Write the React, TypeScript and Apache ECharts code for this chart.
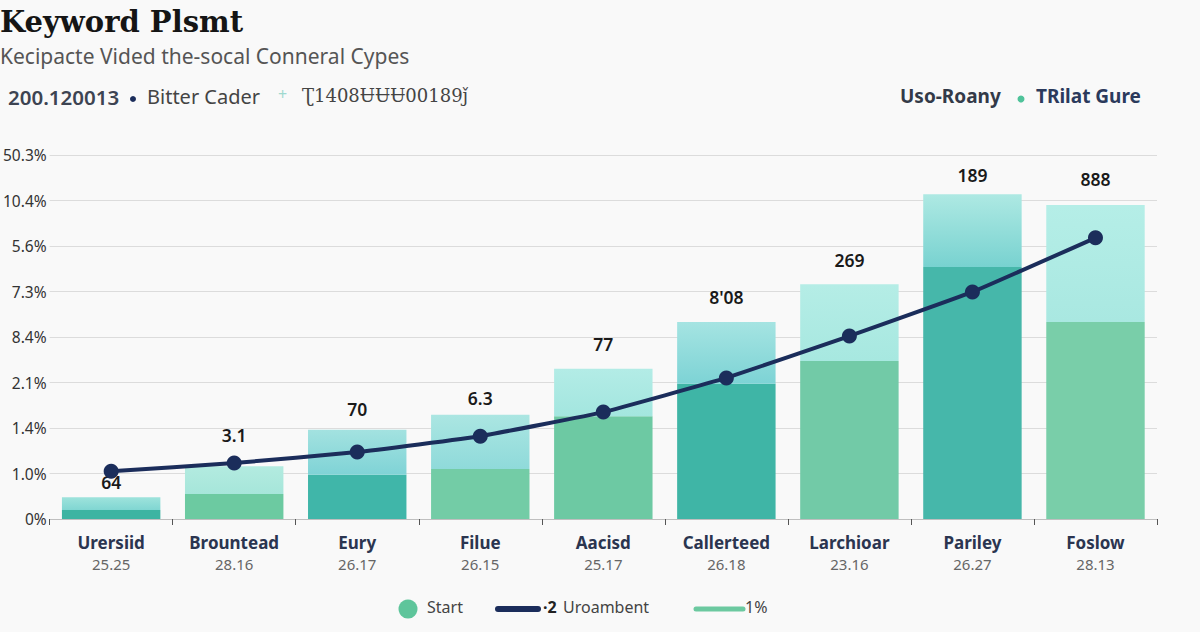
import React, { useEffect, useRef } from "react";
import * as echarts from "echarts";

const categories = ["Urersiid", "Brountead", "Eury", "Filue", "Aacisd", "Callerteed", "Larchioar", "Pariley", "Foslow"];
const subLabels = ["25.25", "28.16", "26.17", "26.15", "25.17", "26.18", "23.16", "26.27", "28.13"];
const yTickLabels = ["0%", "1.0%", "1.4%", "2.1%", "8.4%", "7.3%", "5.6%", "10.4%", "50.3%"];
const baseValues = [0.2, 0.55, 0.97, 1.1, 2.26, 2.97, 3.47, 5.54, 4.33];
const totalValues = [0.48, 1.16, 1.96, 2.29, 3.3, 4.33, 5.16, 7.14, 6.9];
const lineValues = [1.05, 1.23, 1.47, 1.82, 2.35, 3.1, 4.02, 4.99, 6.18];
const barTopLabels = ["64", "3.1", "70", "6.3", "77", "8'08", "269", "189", "888"];

const bottomColors = ["#3db4a2", "#6ccaa1", "#40b6a9", "#73cca6", "#6dc9a3", "#3fb5a6", "#72caa7", "#46b7aa", "#79cea9"];
const topColors = [
  ["#9ee3dc", "#80d6d2"],
  ["#b3ebe0", "#a6e6da"],
  ["#a3e2e0", "#7fd3d6"],
  ["#abe6e2", "#8fdada"],
  ["#b3ece6", "#a3e6df"],
  ["#a5e4e2", "#7dd3d5"],
  ["#b5ede6", "#a7e8e0"],
  ["#aee9e3", "#78d2d0"],
  ["#b5eee7", "#a9e8e1"],
];
const labelDistances = [6, 22, 12, 8, 16, 16, 15, 10, 17];

function grad(c1: string, c2: string) {
  return new echarts.graphic.LinearGradient(0, 0, 0, 1, [
    { offset: 0, color: c1 },
    { offset: 1, color: c2 },
  ]);
}

export default function App() {
  const ref = useRef<HTMLDivElement>(null);
  useEffect(() => {
    if (!ref.current) return;
    const chart = echarts.init(ref.current, null, { renderer: "svg" });
    const sans = "Noto Sans";
    const option: any = {
      animation: false,
      backgroundColor: "#f9f9f9",
      grid: { left: 46, right: 43, top: 155, bottom: 113, containLabel: false },
      xAxis: {
        type: "category",
        data: categories,
        axisLine: { lineStyle: { color: "#bfbfbf", width: 1 } },
        axisTick: { show: true, length: 6, lineStyle: { color: "#555" } },
        axisLabel: {
          margin: 12,
          formatter: (v: string, i: number) => `{n|${v}}\n{s|${subLabels[i]}}`,
          rich: {
            n: { fontFamily: sans, fontWeight: "bold", fontSize: 17, color: "#2b3550", lineHeight: 22 },
            s: { fontFamily: sans, fontSize: 15, color: "#666", lineHeight: 22 },
          },
        },
      },
      yAxis: {
        type: "value",
        min: 0,
        max: 8,
        interval: 1,
        axisLine: { show: false },
        axisTick: { show: false },
        splitLine: { lineStyle: { color: "#dcdcdc", width: 1 } },
        axisLabel: {
          margin: 3,
          fontFamily: sans,
          fontSize: 15.5,
          color: "#333",
          formatter: (v: number) => yTickLabels[Math.round(v)] ?? "",
        },
      },
      series: [
        {
          name: "Start",
          type: "bar",
          stack: "a",
          barWidth: "80%",
          data: baseValues.map((v, i) => ({
            value: v,
            itemStyle: { color: bottomColors[i] },
          })),
        },
        {
          name: "1%",
          type: "bar",
          stack: "a",
          barWidth: "80%",
          data: totalValues.map((v, i) => ({
            value: +(v - baseValues[i]).toFixed(2),
            itemStyle: { color: grad(topColors[i][0], topColors[i][1]) },
            label: { distance: labelDistances[i] },
          })),
          label: {
            show: true,
            position: "top",
            fontFamily: sans,
            fontSize: 17.5,
            fontWeight: 600,
            color: "#1a1a1a",
            formatter: (p: any) => barTopLabels[p.dataIndex],
          },
        },
        {
          name: "2 Uroambent",
          type: "line",
          data: lineValues,
          smooth: 0.1,
          symbol: "circle",
          symbolSize: 15,
          z: 5,
          lineStyle: { color: "#1b2d5b", width: 4 },
          itemStyle: { color: "#1b2d5b" },
        },
      ],
      graphic: [
        { type: "text", left: 0, top: 7, style: { text: "Keyword Plsmt", fontFamily: "DejaVu Serif", fontWeight: "bold", fontSize: 29, fill: "#151515" } },
        { type: "text", left: 0, top: 45, style: { text: "Kecipacte Vided the-socal Conneral Cypes", fontFamily: sans, fontSize: 21, fill: "#555" } },
        { type: "text", left: 8, top: 86, style: { text: "200.120013", fontFamily: sans, fontWeight: 600, fontSize: 20.5, fill: "#3d4452" } },
        { type: "circle", shape: { cx: 133, cy: 99, r: 3 }, style: { fill: "#1b2d5b" } },
        { type: "text", left: 147, top: 86, style: { text: "Bitter Cader", fontFamily: sans, fontSize: 20, fill: "#444" } },
        { type: "text", left: 278, top: 86, style: { text: "+", fontFamily: sans, fontSize: 16, fill: "#9fd9cf" } },
        { type: "text", left: 302, top: 86, style: { text: "Ʈ1408ɄɄɄ00189ǰ", fontFamily: "DejaVu Serif", fontSize: 18, fill: "#444" } },
        { type: "text", left: 900, top: 86, style: { text: "Uso-Roany", fontFamily: sans, fontWeight: "bold", fontSize: 19, fill: "#333a48" } },
        { type: "circle", shape: { cx: 1021, cy: 99, r: 3.5 }, style: { fill: "#4fc39a" } },
        { type: "text", left: 1036, top: 86, style: { text: "TRilat Gure", fontFamily: sans, fontWeight: "bold", fontSize: 19, fill: "#2b3a5c" } },
        // bottom legend
        { type: "circle", shape: { cx: 408, cy: 609, r: 9.5 }, style: { fill: "#5ec59b" } },
        { type: "text", left: 427, top: 599, style: { text: "Start", fontFamily: sans, fontSize: 16, fill: "#444" } },
        { type: "line", shape: { x1: 498, y1: 609, x2: 538, y2: 609 }, style: { stroke: "#1b2d5b", lineWidth: 6, lineCap: "round" } },
        { type: "text", left: 543, top: 599, style: { text: "·2", fontFamily: sans, fontWeight: "bold", fontSize: 16, fill: "#222" } },
        { type: "text", left: 563, top: 599, style: { text: "Uroambent", fontFamily: sans, fontSize: 16, fill: "#444" } },
        { type: "line", shape: { x1: 696, y1: 609, x2: 743, y2: 609 }, style: { stroke: "#6cc9a0", lineWidth: 5, lineCap: "round" } },
        { type: "text", left: 745, top: 599, style: { text: "1%", fontFamily: sans, fontSize: 16, fill: "#444" } },
      ],
    };
    chart.setOption(option);
    return () => chart.dispose();
  }, []);
  return (
    <div
      ref={ref}
      style={{ position: "absolute", left: 0, top: 0, width: 1200, height: 632 }}
    />
  );
}
